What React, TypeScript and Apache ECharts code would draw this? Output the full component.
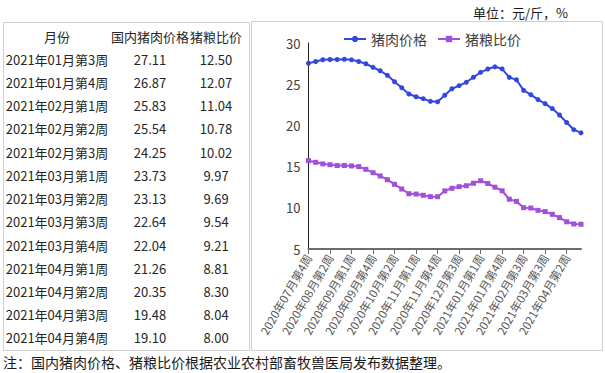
import React, { useEffect, useRef } from "react";
import * as echarts from "echarts";

const categories = [
  "2020年07月第4周", "2020年07月第5周", "2020年08月第1周", "2020年08月第2周",
  "2020年08月第3周", "2020年08月第4周", "2020年09月第1周", "2020年09月第2周",
  "2020年09月第3周", "2020年09月第4周", "2020年09月第5周", "2020年10月第1周",
  "2020年10月第2周", "2020年10月第3周", "2020年10月第4周", "2020年11月第1周",
  "2020年11月第2周", "2020年11月第3周", "2020年11月第4周", "2020年12月第1周",
  "2020年12月第2周", "2020年12月第3周", "2020年12月第4周", "2020年12月第5周",
  "2021年01月第1周", "2021年01月第2周", "2021年01月第3周", "2021年01月第4周",
  "2021年02月第1周", "2021年02月第2周", "2021年02月第3周", "2021年03月第1周",
  "2021年03月第2周", "2021年03月第3周", "2021年03月第4周", "2021年04月第1周",
  "2021年04月第2周", "2021年04月第3周", "2021年04月第4周",
];

const porkPrice = [
  27.54, 27.75, 27.97, 28.0, 28.0, 28.03, 27.96, 27.75, 27.48, 27.05,
  26.63, 26.08, 25.3, 24.58, 23.81, 23.48, 23.24, 22.92, 22.86, 23.66,
  24.45, 24.82, 25.23, 25.84, 26.44, 26.84, 27.11, 26.87, 25.83, 25.54,
  24.25, 23.73, 23.13, 22.64, 22.04, 21.26, 20.35, 19.48, 19.1,
];

const grainRatio = [
  15.72, 15.52, 15.33, 15.23, 15.13, 15.13, 15.08, 15.0, 14.67, 14.26,
  13.86, 13.41, 12.85, 12.28, 11.71, 11.67, 11.52, 11.35, 11.35, 12.05,
  12.37, 12.56, 12.68, 12.98, 13.28, 12.95, 12.5, 12.07, 11.04, 10.78,
  10.02, 9.97, 9.69, 9.54, 9.21, 8.81, 8.3, 8.04, 8.0,
];

const tableHeaders = ["月份", "国内猪肉价格", "猪粮比价"];
const tableStart = 26;
const seriesNames = ["猪肉价格", "猪粮比价"];
const unitText = "单位：元/斤，%";
const noteText = "注：国内猪肉价格、猪粮比价根据农业农村部畜牧兽医局发布数据整理。";

const FONT = "'Noto Sans CJK SC', 'Noto Sans', sans-serif";

export default function App() {
  const ref = useRef<HTMLDivElement>(null);

  useEffect(() => {
    if (!ref.current) return;
    const chart = echarts.init(ref.current, undefined, { renderer: "svg" });

    const tMonths = categories.slice(tableStart);
    const tPrice = porkPrice.slice(tableStart).map((v) => v.toFixed(2));
    const tRatio = grainRatio.slice(tableStart).map((v) => v.toFixed(2));

    const colX = [57, 150, 216];
    const row0 = 36;
    const rowH = 23.23;
    const textColor = "#262626";

    const graphics: any[] = [];
    graphics.push({
      type: "rect",
      shape: { x: 3.5, y: 22.5, width: 246, height: 328 },
      style: { fill: "none", stroke: "#cfcfcf", lineWidth: 1 },
      silent: true,
    });
    graphics.push({
      type: "rect",
      shape: { x: 251.5, y: 21.5, width: 351, height: 329 },
      style: { fill: "none", stroke: "#cfcfcf", lineWidth: 1 },
      silent: true,
    });
    tableHeaders.forEach((h, i) => {
      graphics.push({
        type: "text",
        x: colX[i],
        y: row0,
        style: { text: h, fontSize: 13, fontFamily: FONT, fill: textColor, align: "center", verticalAlign: "middle" },
        silent: true,
      });
    });
    tMonths.forEach((m, r) => {
      const y = row0 + (r + 1) * rowH;
      [m, tPrice[r], tRatio[r]].forEach((t, i) => {
        graphics.push({
          type: "text",
          x: colX[i],
          y,
          style: { text: t, fontSize: 13, fontFamily: FONT, fill: textColor, align: "center", verticalAlign: "middle" },
          silent: true,
        });
      });
    });
    graphics.push({
      type: "text",
      x: 568,
      y: 12,
      style: { text: unitText, fontSize: 13, fontFamily: FONT, fill: "#1a1a1a", align: "right", verticalAlign: "middle" },
      silent: true,
    });
    graphics.push({
      type: "text",
      x: 3,
      y: 362,
      style: { text: noteText, fontSize: 14, fontFamily: FONT, fill: "#1a1a1a", align: "left", verticalAlign: "middle" },
      silent: true,
    });

    chart.setOption({
      animation: false,
      backgroundColor: "#ffffff",
      textStyle: { fontFamily: FONT },
      legend: {
        left: 338,
        top: 27,
        itemWidth: 22,
        itemHeight: 8,
        itemGap: 10,
        textStyle: { fontSize: 14, color: "#404040", fontFamily: FONT },
        data: seriesNames,
      },
      grid: { left: 308.5, right: 24, top: 43, bottom: 124, containLabel: false },
      xAxis: {
        type: "category",
        data: categories,
        boundaryGap: false,
        axisLine: { show: true, lineStyle: { color: "#6b6b6b", width: 2 } },
        axisTick: { show: true, interval: 2, length: 5, lineStyle: { color: "#6b6b6b" } },
        axisLabel: {
          interval: 2,
          rotate: 60,
          fontSize: 11.5,
          color: "#595959",
          margin: 6,
          fontFamily: FONT,
        },
        splitLine: { show: false },
      },
      yAxis: {
        type: "value",
        min: 5,
        max: 30,
        interval: 5,
        axisLine: { show: true, lineStyle: { color: "#222222", width: 1 } },
        axisTick: { show: false },
        axisLabel: { fontSize: 13, color: "#404040", margin: 8, fontFamily: FONT },
        splitLine: { show: false },
      },
      series: [
        {
          name: seriesNames[0],
          type: "line",
          data: porkPrice,
          symbol: "circle",
          symbolSize: 5,
          showAllSymbol: true,
          lineStyle: { color: "#3347E0", width: 2 },
          itemStyle: { color: "#3347E0" },
        },
        {
          name: seriesNames[1],
          type: "line",
          data: grainRatio,
          symbol: "rect",
          symbolSize: 5,
          showAllSymbol: true,
          lineStyle: { color: "#A050DA", width: 2 },
          itemStyle: { color: "#A050DA" },
        },
      ],
      graphic: graphics,
    });

    return () => chart.dispose();
  }, []);

  return (
    <div
      ref={ref}
      style={{ position: "fixed", left: 0, top: 0, width: 605, height: 373, background: "#fff" }}
    />
  );
}
